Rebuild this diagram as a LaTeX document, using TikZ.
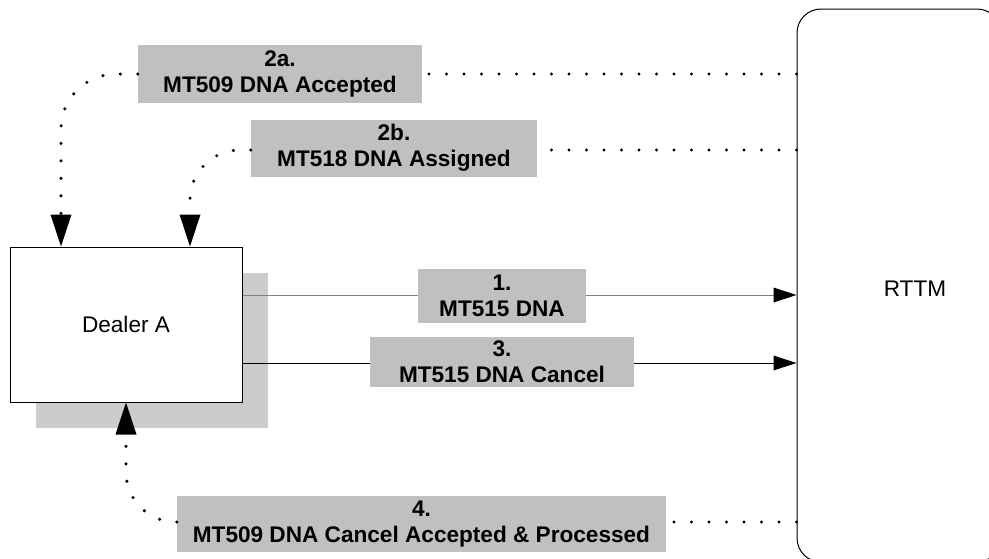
\documentclass[tikz,border=0pt]{standalone}
\usepackage{fontspec}
\setmainfont{Liberation Sans}
\usetikzlibrary{arrows.meta,calc}
\definecolor{lblgray}{HTML}{C0C0C0}
\definecolor{shadowgray}{HTML}{CCCCCC}
\definecolor{linegray}{HTML}{7F7F7F}
\begin{document}
\begin{tikzpicture}[x=1pt,y=-1pt,
  txt/.style={font=\fontsize{22.6}{26}\selectfont},
  lbl/.style={fill=lblgray, inner sep=0pt, align=center, font=\fontsize{22.6}{26}\selectfont\bfseries},
  dots/.style={line width=3.4pt, line cap=round, dash pattern=on 0pt off 17.5pt},
  bigtip/.style={-{Triangle[length=32pt,width=21pt,line width=0pt,color=black]}},
  smalltip/.style={-{Triangle[length=23pt,width=15pt,line width=0pt,color=black]}},
  msg/.style={line width=1pt, smalltip}
]
\useasboundingbox (0,0) rectangle (989,558);
\fill[white] (0,0) rectangle (989,558);

% RTTM
\begin{scope}
\clip (0,0) rectangle (989,558);
\node[draw, line width=1pt, rounded corners=24pt, minimum width=204pt, minimum height=553pt, inner sep=0pt] (rttm) at (899,285.5) {};
\end{scope}
\node[txt] (rttmlabel) at (915,289) {RTTM};

% Dealer A with shadow
\node[fill=shadowgray, minimum width=232pt, minimum height=155pt, inner sep=0pt] (dshadow) at (152,350.5) {};

% message boxes
\node[lbl, minimum width=284pt, minimum height=58pt] (box2a) at (280,74) {2a.\\MT509 DNA Accepted};
\node[lbl, minimum width=286pt, minimum height=57pt] (box2b) at (394,148) {2b.\\MT518 DNA Assigned};

\coordinate (y1) at (0,295);
\coordinate (y3) at (0,363);
\coordinate (y4) at (0,522);

\node[draw, fill=white, line width=1pt, minimum width=232pt, minimum height=155pt, inner sep=0pt, txt] (dealer) at (126,324.5) {Dealer A};

\coordinate (a2a) at ($(dealer.north)+(-65,0)$);
\coordinate (a2b) at ($(dealer.north)+(64,0)$);

\draw[msg, draw=linegray] (dealer.east |- y1) -- (rttm.west |- y1);
\draw[msg] (dealer.east |- y3) -- (rttm.west |- y3);

% dotted connectors
\draw[dots] (rttm.west |- box2a.east) -- (box2a.east);
\draw[dots, bigtip, rounded corners=55pt] (box2a.west) -| (a2a);
\draw[dots] (rttm.west |- 0,150) -- (box2b.east |- 0,150);
\draw[dots, bigtip, rounded corners=50pt] (box2b.west |- 0,150) -| (a2b);

% labels on top
\node[lbl, minimum width=168pt, minimum height=54pt] (box1) at (502,296) {1.\\MT515 DNA};
\node[lbl, minimum width=264pt, minimum height=50pt] (box3) at (502,362) {3.\\MT515 DNA Cancel};
\node[lbl, minimum width=489pt, minimum height=56pt] (box4) at (421.5,524) {4.\\MT509 DNA Cancel Accepted \& Processed};
\draw[dots] (rttm.west |- y4) -- (box4.east |- y4);
\draw[dots, bigtip, rounded corners=50pt] (box4.west |- y4) -| (dealer.south);
\end{tikzpicture}
\end{document}
